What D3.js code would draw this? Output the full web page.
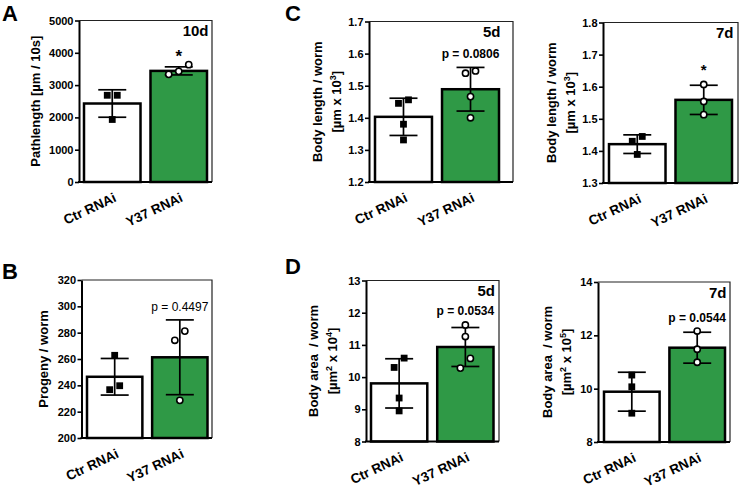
<!DOCTYPE html>
<html><head><meta charset="utf-8">
<script src="https://cdn.jsdelivr.net/npm/d3@7"></script>
<style>
body{margin:0;background:#fff}
text{font-family:"Liberation Sans",Arial,sans-serif}
</style>
</head><body>
<svg id="chart" width="740" height="488"></svg>
<script>
// ---------- DATA ----------
const categories = ["Ctr RNAi", "Y37 RNAi"];

// A: Pathlength (10d)
const pathMeans = [2430, 3440];
const pathSD = [425, 125];
const pathCtr = [2685, 2685, 1935];
const pathY37 = [3633, 3333, 3426];
const pathTicks = [0, 1000, 2000, 3000, 4000, 5000];

// B: Progeny
const progMeans = [246.5, 261.3];
const progSD = [13.9, 28.4];
const progCtr = [262.8, 236.7, 239.7];
const progY37 = [281.2, 274.2, 228.6];
const progTicks = [200, 220, 240, 260, 280, 300, 320];

// C: Body length 5d
const len5Means = [1.403, 1.489];
const len5SD = [0.058, 0.068];
const len5Ctr = [1.456, 1.445, 1.380, 1.331];
const len5Y37 = [1.539, 1.546, 1.466, 1.400];
const len5Ticks = [1.2, 1.3, 1.4, 1.5, 1.6, 1.7];

// C: Body length 7d
const len7Means = [1.421, 1.559];
const len7SD = [0.029, 0.0455];
const len7Ctr = [1.445, 1.430, 1.389];
const len7Y37 = [1.607, 1.554, 1.513];
const len7Ticks = [1.3, 1.4, 1.5, 1.6, 1.7, 1.8];

// D: Body area 5d
const area5Means = [9.805, 10.935];
const area5SD = [0.765, 0.605];
const area5Ctr = [10.59, 10.30, 9.35, 8.95];
const area5Y37 = [11.62, 11.26, 10.58, 10.28];
const area5Ticks = [8, 9, 10, 11, 12, 13];

// D: Body area 7d
const area7Means = [9.886, 11.536];
const area7SD = [0.73, 0.58];
const area7Ctr = [10.51, 10.07, 9.08];
const area7Y37 = [12.16, 11.48, 10.99];
const area7Ticks = [8, 10, 12, 14];

const sigLabels = ["*", "p = 0.4497", "p = 0.0806", "*", "p = 0.0534", "p = 0.0544"];
const dayLabels = ["10d", "", "5d", "7d", "5d", "7d"];

// ---------- LAYOUT ----------
const GREEN = "#2f9946";
const svg = d3.select("#chart");

const panels = [
  {means: pathMeans, sd: pathSD, pts: [pathCtr, pathY37], ticks: pathTicks, fmt: d3.format("d"),
   x0: 79, x1: 212, y0: 20.5, y1: 182, bands: [84, 207],
   title: [["Pathlength [µm / 10s]"]], titleOff: [39],
   day: dayLabels[0], sig: sigLabels[0], sigGap: 5, sigSize: 17, sigWeight: "bold"},
  {means: progMeans, sd: progSD, pts: [progCtr, progY37], ticks: progTicks, fmt: d3.format("d"),
   x0: 81.5, x1: 212, y0: 280, y1: 438, bands: [87, 207.5],
   title: [["Progeny / worm"]], titleOff: [34],
   day: dayLabels[1], sig: sigLabels[1], sigGap: 8.5, sigSize: 12, sigWeight: "normal"},
  {means: len5Means, sd: len5SD, pts: [len5Ctr, len5Y37], ticks: len5Ticks, fmt: d3.format(".1f"),
   x0: 369, x1: 513, y0: 21.5, y1: 182, bands: [375, 499],
   title: [["Body length / worm"], ["[µm x 10", {sup: "3"}, "]"]], titleOff: [47, 28],
   day: dayLabels[2], sig: sigLabels[2], sigGap: 9.5, sigSize: 12, sigWeight: "bold"},
  {means: len7Means, sd: len7SD, pts: [len7Ctr, len7Y37], ticks: len7Ticks, fmt: d3.format(".1f"),
   x0: 603, x1: 738, y0: 22.5, y1: 183, bands: [609, 732],
   title: [["Body length / worm"], ["[µm x 10", {sup: "3"}, "]"]], titleOff: [47, 28],
   day: dayLabels[3], sig: sigLabels[3], sigGap: 10.5, sigSize: 15, sigWeight: "bold"},
  {means: area5Means, sd: area5SD, pts: [area5Ctr, area5Y37], ticks: area5Ticks, fmt: d3.format("d"),
   x0: 366, x1: 499, y0: 280.5, y1: 441.5, bands: [371, 493.5],
   title: [["Body area  / worm"], ["[µm", {sup: "2"}, " x 10", {sup: "4"}, "]"]], titleOff: [48, 29],
   day: dayLabels[4], sig: sigLabels[4], sigGap: 13, sigSize: 12, sigWeight: "bold"},
  {means: area7Means, sd: area7SD, pts: [area7Ctr, area7Y37], ticks: area7Ticks, fmt: d3.format("d"),
   x0: 598, x1: 730, y0: 282, y1: 442, bands: [604, 725],
   title: [["Body area  / worm"], ["[µm", {sup: "2"}, " x 10", {sup: "5"}, "]"]], titleOff: [46, 27],
   day: dayLabels[5], sig: sigLabels[5], sigGap: 10.5, sigSize: 12, sigWeight: "bold"}
];

const letters = [
  {t: "A", x: 2, y: 21}, {t: "B", x: 2, y: 279},
  {t: "C", x: 285, y: 21}, {t: "D", x: 285, y: 273.5}
];

// swarm-like offsets: points closer than a threshold vertically are spread horizontally
function swarm(vals, y, step, thresh) {
  const idx = vals.map((v, i) => i).sort((a, b) => vals[a] - vals[b]);
  const rows = [];
  idx.forEach(i => {
    const last = rows[rows.length - 1];
    if (last && Math.abs(y(vals[i]) - y(vals[last[last.length - 1]])) < thresh) last.push(i);
    else rows.push([i]);
  });
  const off = new Array(vals.length).fill(0);
  rows.forEach(r => r.forEach((i, k) => { off[i] = (k - (r.length - 1) / 2) * step; }));
  return off;
}

panels.forEach(p => {
  const g = svg.append("g");
  const dom = [p.ticks[0], p.ticks[p.ticks.length - 1]];
  const y = d3.scaleLinear().domain(dom).range([p.y1, p.y0]);
  const x = d3.scaleBand().domain(categories).range(p.bands).paddingInner(0.15).paddingOuter(0);
  const bw = x.bandwidth();
  const cx = c => x(c) + bw / 2;

  // frame (top & right)
  g.append("path")
    .attr("d", `M${p.x0},${p.y0}H${p.x1}V${p.y1}`)
    .attr("fill", "none").attr("stroke", "#222").attr("stroke-width", 1.2);

  // bars
  g.selectAll("rect.bar").data(categories).join("rect").attr("class", "bar")
    .attr("x", d => x(d)).attr("width", bw)
    .attr("y", (d, i) => y(p.means[i]))
    .attr("height", (d, i) => y(dom[0]) - y(p.means[i]))
    .attr("fill", (d, i) => i ? GREEN : "#fff")
    .attr("stroke", "#000").attr("stroke-width", 2.5);

  // error bars (mean ± SD)
  const cap = 14;
  categories.forEach((c, i) => {
    const hi = y(p.means[i] + p.sd[i]), lo = y(p.means[i] - p.sd[i]);
    const eg = g.append("g").attr("stroke", "#000").attr("stroke-width", 1.7);
    eg.append("line").attr("x1", cx(c)).attr("x2", cx(c)).attr("y1", hi).attr("y2", lo);
    eg.append("line").attr("x1", cx(c) - cap).attr("x2", cx(c) + cap).attr("y1", hi).attr("y2", hi);
    eg.append("line").attr("x1", cx(c) - cap).attr("x2", cx(c) + cap).attr("y1", lo).attr("y2", lo);
  });

  // points
  categories.forEach((c, i) => {
    const vals = p.pts[i];
    const off = swarm(vals, y, 10, 10.5);
    if (i === 0) {
      g.selectAll(null).data(vals).join("rect")
        .attr("x", (v, k) => cx(c) + off[k] - 3.4).attr("y", v => y(v) - 3.4)
        .attr("width", 6.8).attr("height", 6.8).attr("fill", "#000");
    } else {
      g.selectAll(null).data(vals).join("circle")
        .attr("cx", (v, k) => cx(c) + off[k]).attr("cy", v => y(v)).attr("r", 3.1)
        .attr("fill", "#fff").attr("stroke", "#000").attr("stroke-width", 1.6);
    }
  });

  // left axis
  const ax = g.append("g").attr("transform", `translate(${p.x0},0)`)
    .call(d3.axisLeft(y).tickValues(p.ticks).tickFormat(p.fmt).tickSize(4).tickSizeOuter(0).tickPadding(1.5));
  ax.attr("font-family", null);
  ax.select(".domain").attr("stroke", "#000").attr("stroke-width", 2);
  ax.selectAll(".tick line").attr("stroke", "#000").attr("stroke-width", 1.6);
  ax.selectAll(".tick text").attr("font-size", 11).attr("font-weight", "bold").attr("fill", "#000");

  // bottom axis line
  g.append("line").attr("x1", p.x0 - 1).attr("x2", p.x1).attr("y1", y(dom[0])).attr("y2", y(dom[0]))
    .attr("stroke", "#000").attr("stroke-width", 2);

  // x labels
  g.selectAll("text.xl").data(categories).join("text").attr("class", "xl")
    .attr("transform", d => `translate(${cx(d) + 5},${y(dom[0]) + 19}) rotate(-25)`)
    .attr("text-anchor", "end").attr("font-size", 13.5).attr("font-weight", "bold").text(d => d);

  // y title
  const midY = (p.y0 + p.y1) / 2;
  p.title.forEach((line, li) => {
    const t = g.append("text")
      .attr("transform", `translate(${p.x0 - p.titleOff[li]},${midY}) rotate(-90)`)
      .attr("text-anchor", "middle").attr("font-size", 13).attr("font-weight", "bold")
      .style("white-space", "pre");
    line.forEach(part => {
      if (typeof part === "string") t.append("tspan").text(part);
      else t.append("tspan").attr("baseline-shift", "super").attr("font-size", 9).text(part.sup);
    });
  });

  // day label
  if (p.day) g.append("text").attr("x", p.bands[1] + 1.5).attr("y", p.y0 + 15.5)
    .attr("text-anchor", "end").attr("font-size", 15).attr("font-weight", "bold").text(p.day);

  // significance label
  const c1 = categories[1];
  g.append("text").attr("x", cx(c1)).attr("y", y(p.means[1] + p.sd[1]) - p.sigGap)
    .attr("text-anchor", "middle").attr("font-size", p.sigSize).attr("font-weight", p.sigWeight)
    .text(p.sig);
});

svg.selectAll("text.letter").data(letters).join("text").attr("class", "letter")
  .attr("x", d => d.x).attr("y", d => d.y)
  .attr("font-size", 22).attr("font-weight", "bold").text(d => d.t);
</script>
</body></html>
